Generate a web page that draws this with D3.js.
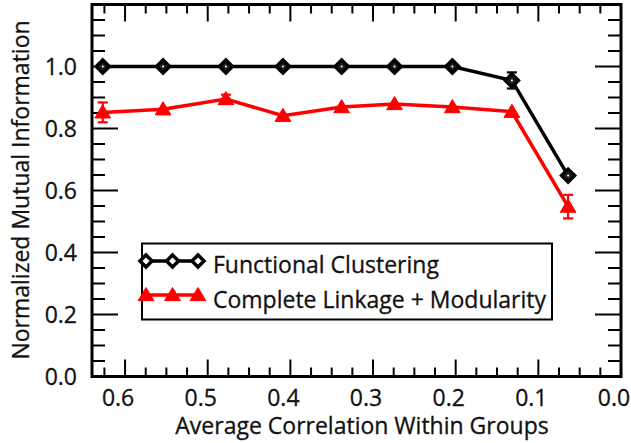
<!DOCTYPE html>
<html><head><meta charset="utf-8">
<script src="https://cdn.jsdelivr.net/npm/d3@7"></script>
<style>
html,body{margin:0;padding:0;background:#fff;}
text{font-family:"Open Sans",sans-serif;}
</style></head>
<body><svg id="c" width="631" height="443"></svg>
<script>
const xValues = [0.627, 0.554, 0.478, 0.409, 0.338, 0.274, 0.204, 0.132, 0.064];
const fcValues = [1.0, 1.0, 1.0, 1.0, 1.0, 1.0, 1.0, 0.955, 0.648];
const fcErrors = [0, 0, 0, 0, 0, 0, 0, 0.026, 0];
const clValues = [0.852, 0.862, 0.895, 0.841, 0.869, 0.879, 0.869, 0.854, 0.548];
const clErrors = [0.032, 0, 0.014, 0, 0, 0, 0, 0, 0.038];
const xTicks = [0.6, 0.5, 0.4, 0.3, 0.2, 0.1, 0.0];
const yTicks = [0.0, 0.2, 0.4, 0.6, 0.8, 1.0];
const seriesNames = ["Functional Clustering", "Complete Linkage + Modularity"];
const xLabel = "Average Correlation Within Groups";
const yLabel = "Normalized Mutual Information";

const svg = d3.select("#c");
const L = 92, R = 621, T = 4.5, B = 376.5;
const x = d3.scaleLinear().domain([0.64, 0]).range([L, R]);
const y = d3.scaleLinear().domain([0, 1.2]).range([B, T]);

const fs = 23;
const xMinor = d3.range(0, 26).map(i => i * 0.025).filter(v => v <= 0.64 && Math.abs(v*10 - Math.round(v*10)) > 1e-6);
const yMinor = d3.range(0, 25).map(i => i * 0.05).filter(v => v <= 1.2 && Math.abs(v*5 - Math.round(v*5)) > 1e-6);
const yMajorAll = [0, 0.2, 0.4, 0.6, 0.8, 1.0, 1.2];

const axes = svg.append("g").attr("stroke", "#000").attr("stroke-width", 2);
xTicks.forEach(v => {
  axes.append("line").attr("x1", x(v)).attr("x2", x(v)).attr("y1", B).attr("y2", B - 17);
  axes.append("line").attr("x1", x(v)).attr("x2", x(v)).attr("y1", T).attr("y2", T + 17);
});
xMinor.forEach(v => {
  axes.append("line").attr("x1", x(v)).attr("x2", x(v)).attr("y1", B).attr("y2", B - 9);
  axes.append("line").attr("x1", x(v)).attr("x2", x(v)).attr("y1", T).attr("y2", T + 9);
});
yMajorAll.forEach(v => {
  axes.append("line").attr("y1", y(v)).attr("y2", y(v)).attr("x1", L).attr("x2", L + 26);
  axes.append("line").attr("y1", y(v)).attr("y2", y(v)).attr("x1", R).attr("x2", R - 26);
});
yMinor.forEach(v => {
  axes.append("line").attr("y1", y(v)).attr("y2", y(v)).attr("x1", L).attr("x2", L + 13);
  axes.append("line").attr("y1", y(v)).attr("y2", y(v)).attr("x1", R).attr("x2", R - 13);
});
svg.append("rect").attr("x", L).attr("y", T).attr("width", R - L).attr("height", B - T)
  .attr("fill", "none").attr("stroke", "#000").attr("stroke-width", 3);

// tick labels
svg.append("g").selectAll("text").data(xTicks).join("text")
  .attr("x", d => x(d) - 7).attr("y", 406).attr("text-anchor", "middle")
  .attr("font-size", fs).attr("fill", "#111").attr("stroke", "#111").attr("stroke-width", 0.3).text(d => d.toFixed(1));
svg.append("g").selectAll("text").data(yTicks).join("text")
  .attr("x", 77).attr("y", d => y(d) + 8).attr("text-anchor", "end")
  .attr("font-size", fs).attr("fill", "#111").attr("stroke", "#111").attr("stroke-width", 0.3).text(d => d.toFixed(1));

// axis titles
svg.append("text").attr("x", 362).attr("y", 434).attr("text-anchor", "middle")
  .attr("font-size", fs).attr("fill", "#111").attr("stroke", "#111").attr("stroke-width", 0.3).text(xLabel);
svg.append("text").attr("transform", "translate(29,190) rotate(-90)").attr("text-anchor", "middle")
  .attr("font-size", fs).attr("fill", "#111").attr("stroke", "#111").attr("stroke-width", 0.3).text(yLabel);

const idx = d3.range(xValues.length);
const line = vals => d3.line().x(i => x(xValues[i])).y(i => y(vals[i]))(idx);

const diamond = (cx, cy, s) => `M${cx},${cy - s}L${cx + s},${cy}L${cx},${cy + s}L${cx - s},${cy}Z`;
const triangle = (cx, cy, s) => `M${cx},${cy - s}L${cx + s * 1.05},${cy + s * 0.75}L${cx - s * 1.05},${cy + s * 0.75}Z`;

function errBars(vals, errs, color) {
  const g = svg.append("g").attr("stroke", color).attr("stroke-width", 2.2);
  idx.filter(i => errs[i] > 0).forEach(i => {
    const cx = x(xValues[i]), y1 = y(vals[i] + errs[i]), y2 = y(vals[i] - errs[i]);
    g.append("line").attr("x1", cx).attr("x2", cx).attr("y1", y1).attr("y2", y2);
    g.append("line").attr("x1", cx - 5).attr("x2", cx + 5).attr("y1", y1).attr("y2", y1);
    g.append("line").attr("x1", cx - 5).attr("x2", cx + 5).attr("y1", y2).attr("y2", y2);
  });
}

svg.append("path").attr("d", line(clValues)).attr("fill", "none").attr("stroke", "#ff0000").attr("stroke-width", 3.5);
errBars(clValues, clErrors, "#ff0000");
svg.append("g").selectAll("path").data(idx).join("path")
  .attr("d", i => triangle(x(xValues[i]), y(clValues[i]), 7.5)).attr("fill", "#ff0000").attr("stroke", "#ff0000").attr("stroke-width", 1);

svg.append("path").attr("d", line(fcValues)).attr("fill", "none").attr("stroke", "#000").attr("stroke-width", 3.5);
errBars(fcValues, fcErrors, "#000");
svg.append("g").selectAll("path").data(idx).join("path")
  .attr("d", i => diamond(x(xValues[i]), y(fcValues[i]), 6.5)).attr("fill", "#222").attr("stroke", "#000").attr("stroke-width", 3.5);
svg.append("g").selectAll("circle").data(idx).join("circle")
  .attr("cx", i => x(xValues[i])).attr("cy", i => y(fcValues[i])).attr("r", 1).attr("fill", "#fff");

// legend
const lg = svg.append("g");
lg.append("rect").attr("x", 142).attr("y", 243.5).attr("width", 410).attr("height", 76)
  .attr("fill", "#fff").attr("stroke", "#000").attr("stroke-width", 2);
const legY = [261, 295];
[0, 1].forEach(k => {
  const col = k === 0 ? "#000" : "#ff0000";
  lg.append("line").attr("x1", 145).attr("x2", 199).attr("y1", legY[k]).attr("y2", legY[k]).attr("stroke", col).attr("stroke-width", 3.5);
  [146, 172.5, 198].forEach(mx => {
    if (k === 0) {
      lg.append("path").attr("d", diamond(mx, legY[k], 6)).attr("fill", "#fff").attr("stroke", "#000").attr("stroke-width", 3.5);
    } else lg.append("path").attr("d", triangle(mx, legY[k], 7.5)).attr("fill", "#ff0000").attr("stroke", "#ff0000").attr("stroke-width", 1);
  });
  lg.append("text").attr("x", 213).attr("y", k === 0 ? 273 : 307.5).attr("font-size", fs).attr("fill", "#111")
    .attr("stroke", "#111").attr("stroke-width", 0.3).text(seriesNames[k]);
});
</script></body></html>
